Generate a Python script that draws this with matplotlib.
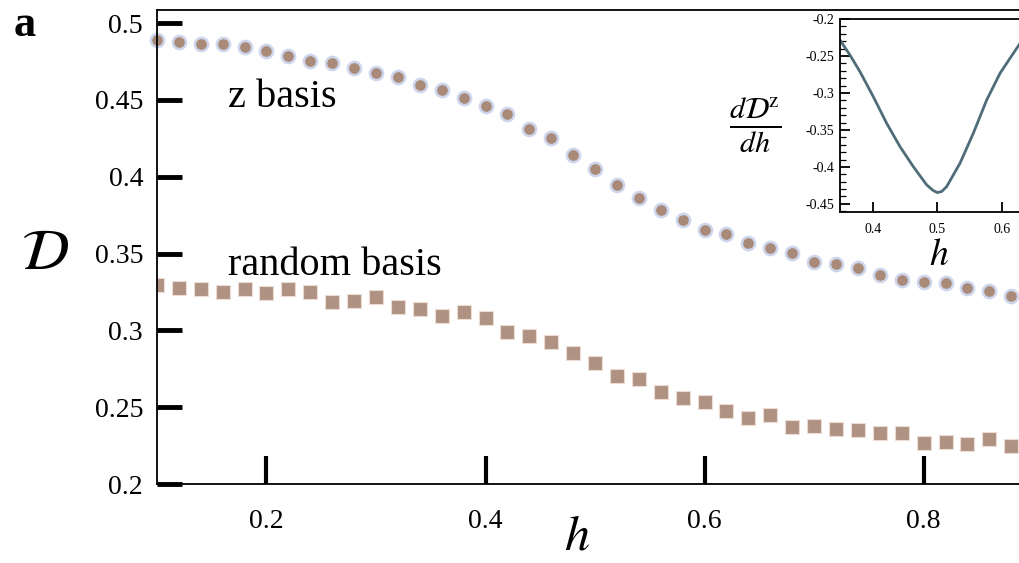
import matplotlib
matplotlib.use('Agg')
import matplotlib.pyplot as plt
from matplotlib.ticker import FuncFormatter, MultipleLocator

plt.rcParams['font.family'] = ['Liberation Serif', 'DejaVu Serif']
plt.rcParams['mathtext.fontset'] = 'stix'
plt.rcParams['axes.unicode_minus'] = False

# data
h = [0.10, 0.12, 0.14, 0.16, 0.18, 0.20, 0.22, 0.24, 0.26, 0.28,
     0.30, 0.32, 0.34, 0.36, 0.38, 0.40, 0.42, 0.44, 0.46, 0.48,
     0.50, 0.52, 0.54, 0.56, 0.58, 0.60, 0.62, 0.64, 0.66, 0.68,
     0.70, 0.72, 0.74, 0.76, 0.78, 0.80, 0.82, 0.84, 0.86, 0.88]
d_z = [0.4889, 0.4876, 0.4863, 0.4863, 0.4844, 0.4818, 0.4785, 0.4753, 0.4740, 0.4707,
       0.4675, 0.4649, 0.4597, 0.4564, 0.4512, 0.4460, 0.4408, 0.4310, 0.4252, 0.4141,
       0.4050, 0.3946, 0.3861, 0.3783, 0.3717, 0.3652, 0.3627, 0.3568, 0.3536, 0.3503,
       0.3445, 0.3432, 0.3406, 0.3360, 0.3328, 0.3315, 0.3308, 0.3276, 0.3256, 0.3224]
d_rand = [0.3295, 0.3276, 0.3269, 0.3250, 0.3269, 0.3243, 0.3269, 0.3250, 0.3184, 0.3191,
          0.3217, 0.3152, 0.3139, 0.3093, 0.3119, 0.3080, 0.2989, 0.2963, 0.2924, 0.2853,
          0.2788, 0.2703, 0.2683, 0.2599, 0.2560, 0.2534, 0.2475, 0.2430, 0.2449, 0.2371,
          0.2378, 0.2358, 0.2351, 0.2332, 0.2332, 0.2267, 0.2273, 0.2260, 0.2293, 0.2247]

# inset: derivative of D^z
h_in = [0.3487, 0.3642, 0.3798, 0.4005, 0.4213, 0.4420, 0.4627, 0.4835, 0.4938, 0.5000,
        0.5068, 0.5146, 0.5353, 0.5560, 0.5768, 0.5975, 0.6182, 0.6286]
dd_in = [-0.2284, -0.2486, -0.2712, -0.3050, -0.3410, -0.3725, -0.3996, -0.4243, -0.4320, -0.4347,
         -0.4333, -0.4266, -0.3950, -0.3545, -0.3095, -0.2734, -0.2464, -0.2329]

fig = plt.figure(figsize=(10.2, 5.63), dpi=100)
ax = fig.add_axes([0.1539, 0.1403, 0.8461, 0.8419])

ax.plot(h, d_z, 'o', ms=9.5, mfc='#a98a78', mec='#cdd6ec', mew=1.8, clip_on=False)
ax.plot(h, d_rand, 's', ms=10, mfc='#b09282', mec='#ecdcd4', mew=0.8)

ax.set_xlim(0.1, 0.888)
ax.set_ylim(0.2, 0.5085)
ax.set_xticks([0.2, 0.4, 0.6, 0.8])
ax.set_yticks([0.2, 0.25, 0.3, 0.35, 0.4, 0.45, 0.5])
fmt = FuncFormatter(lambda v, p: '%g' % round(v, 3))
ax.xaxis.set_major_formatter(fmt)
ax.yaxis.set_major_formatter(fmt)
ax.tick_params(axis='y', direction='in', length=18, width=3.5, labelsize=20, pad=10)
ax.tick_params(axis='x', direction='in', length=20, width=3, labelsize=20, pad=18)
ax.spines['right'].set_visible(False)
for s in ['left', 'bottom', 'top']:
    ax.spines[s].set_linewidth(1.3)

ax.text(0.1648, 0.4453, 'z basis', fontsize=29, va='baseline')
ax.text(0.1648, 0.336, 'random basis', fontsize=29, va='baseline')

fig.text(0.044, 0.547, r'$\mathcal{D}$', fontsize=42, ha='center', va='center')
fig.text(0.566, 0.045, r'$h$', fontsize=36, ha='center', va='center')
fig.text(0.024, 0.955, 'a', fontsize=32, fontweight='bold', ha='center', va='center')

# inset
ins = fig.add_axes([0.8235, 0.6234, 0.19, 0.3428])
ins.plot(h_in, dd_in, color='#4f6d78', lw=2)
ins.set_xlim(0.3487, 0.65)
ins.set_ylim(-0.461, -0.2)
ins.set_xticks([0.4, 0.5, 0.6])
ins.set_yticks([-0.45, -0.4, -0.35, -0.3, -0.25, -0.2])
ins.yaxis.set_minor_locator(MultipleLocator(0.01))
ins.xaxis.set_major_formatter(fmt)
ins.yaxis.set_major_formatter(fmt)
ins.tick_params(which='major', direction='in', length=7, width=1.3, labelsize=10, pad=4)
ins.tick_params(which='minor', direction='in', length=4, width=0.9)
ins.tick_params(axis='x', pad=8)
for s in ins.spines.values():
    s.set_linewidth(1.3)
fig.text(0.740, 0.778, r'$\frac{d\mathcal{D}^{\mathrm{z}}}{dh}$', fontsize=31, ha='center', va='center')
fig.text(0.921, 0.545, r'$h$', fontsize=27, ha='center', va='center')

fig.savefig('out.png', dpi=100)
